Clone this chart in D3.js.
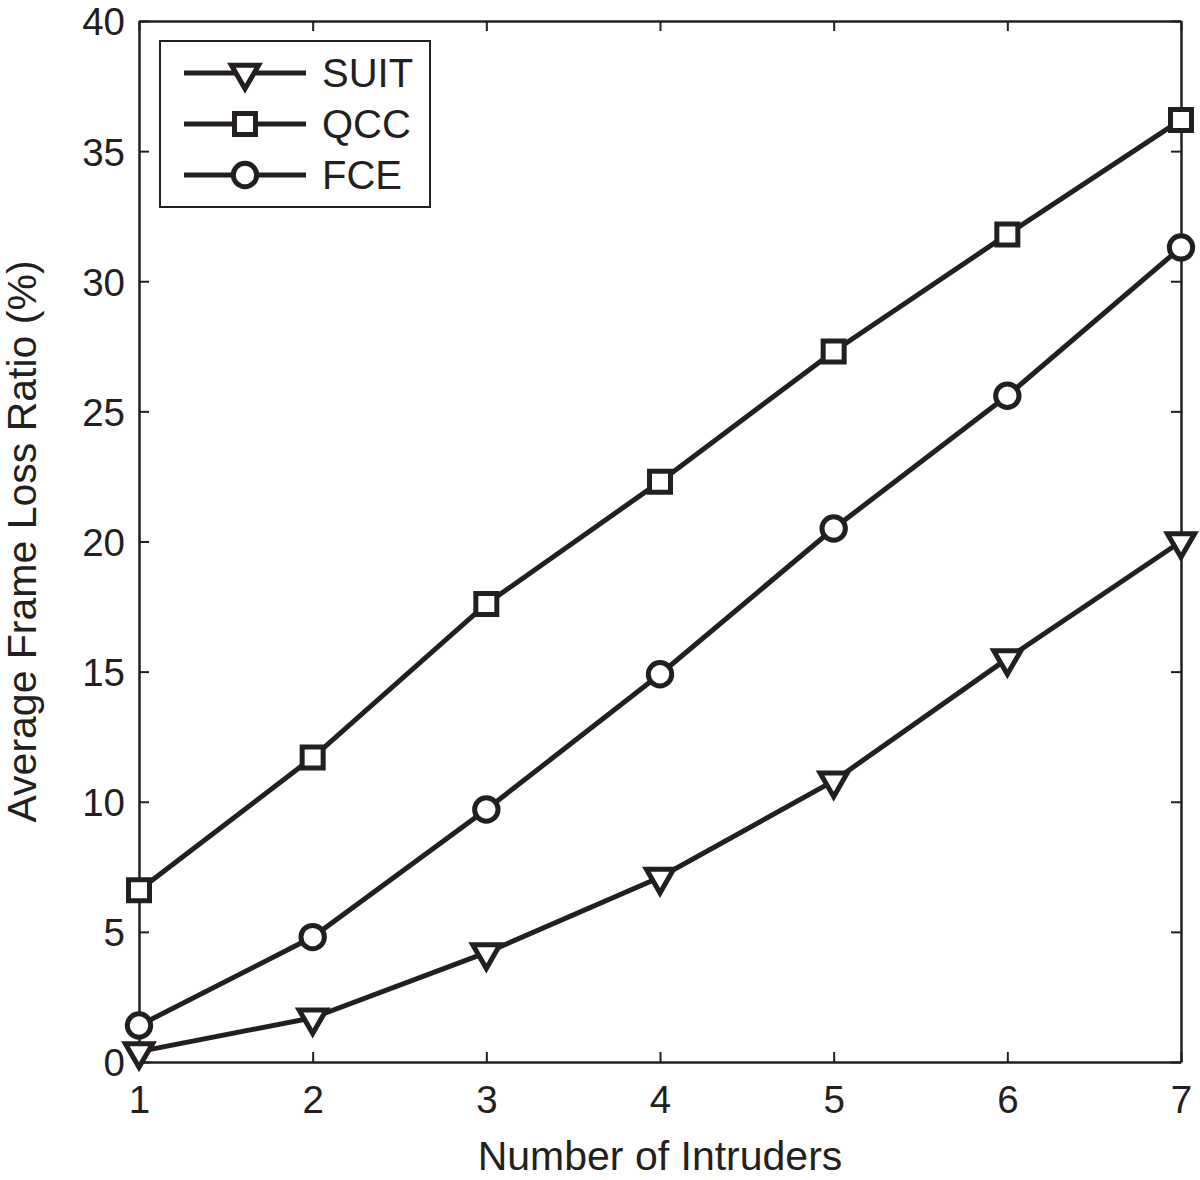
<!DOCTYPE html>
<html>
<head>
<meta charset="utf-8">
<script src="https://cdn.jsdelivr.net/npm/d3@7"></script>
<style>
  body { margin: 0; background: #fff; }
  text { font-family: "Liberation Sans", Arial, sans-serif; fill: #231f20; }
</style>
</head>
<body>
<svg id="chart" width="1200" height="1180"></svg>
<script>
// data
const intruders = [1, 2, 3, 4, 5, 6, 7];
const suit = [0.4, 1.7, 4.2, 7.1, 10.8, 15.5, 20.0];
const qcc = [6.6, 11.7, 17.6, 22.3, 27.3, 31.8, 36.2];
const fce = [1.4, 4.8, 9.7, 14.9, 20.5, 25.6, 31.3];
const yTicks = [0, 5, 10, 15, 20, 25, 30, 35, 40];
const seriesNames = ["SUIT", "QCC", "FCE"];

const ink = "#231f20";
const margin = { top: 21, right: 19, bottom: 118, left: 139 };
const width = 1200 - margin.left - margin.right;
const height = 1180 - margin.top - margin.bottom;

const svg = d3.select("#chart")
    .append("g")
    .attr("transform", `translate(${margin.left},${margin.top})`);

const xScale = d3.scaleLinear().domain([1, 7]).range([0, width]);
const yScale = d3.scaleLinear().domain([0, 40]).range([height, 0]);

// axes with inward ticks, box on all four sides
const tickLen = 10;
const xAxis = svg.append("g")
    .attr("transform", `translate(0,${height})`)
    .call(d3.axisBottom(xScale).tickValues(intruders).tickFormat(d3.format("d"))
        .tickSizeInner(-tickLen).tickSizeOuter(0).tickPadding(24));
const yAxis = svg.append("g")
    .call(d3.axisLeft(yScale).tickValues(yTicks)
        .tickSizeInner(-tickLen).tickSizeOuter(0).tickPadding(14));
svg.append("g")
    .call(d3.axisTop(xScale).tickValues(intruders).tickFormat("").tickSizeInner(-tickLen).tickSizeOuter(0));
svg.append("g")
    .attr("transform", `translate(${width},0)`)
    .call(d3.axisRight(yScale).tickValues(yTicks).tickFormat("").tickSizeInner(-tickLen).tickSizeOuter(0));

svg.selectAll(".domain").attr("stroke", ink).attr("stroke-width", 2.5);
svg.selectAll(".tick line").attr("stroke", ink).attr("stroke-width", 2);
svg.selectAll(".tick text").style("font-size", "38.5px").attr("fill", ink);
xAxis.selectAll(".tick text").attr("dy", "0.71em");
yAxis.selectAll(".tick text").attr("dy", "0.36em");

// axis labels
svg.append("text")
    .attr("x", width / 2)
    .attr("y", height + 108)
    .style("text-anchor", "middle")
    .style("font-size", "41px")
    .text("Number of Intruders");

svg.append("text")
    .attr("transform", "rotate(-90)")
    .attr("x", -height / 2)
    .attr("y", -103)
    .style("text-anchor", "middle")
    .style("font-size", "41px")
    .text("Average Frame Loss Ratio (%)");

// markers
const symbols = {
    SUIT: d3.symbol().type(d3.symbolTriangle).size(320),
    QCC: d3.symbol().type(d3.symbolSquare).size(441),
    FCE: d3.symbol().type(d3.symbolCircle).size(430)
};

function drawMarker(g, name) {
    const p = g.append("path")
        .attr("d", symbols[name]())
        .attr("fill", "#fff")
        .attr("stroke", ink)
        .attr("stroke-width", 5);
    if (name === "SUIT") p.attr("transform", "rotate(180)");
    return p;
}

const series = [
    { name: "SUIT", values: suit },
    { name: "QCC", values: qcc },
    { name: "FCE", values: fce }
];

const line = d3.line()
    .x((d, i) => xScale(intruders[i]))
    .y(d => yScale(d));

series.forEach(s => {
    svg.append("path")
        .attr("fill", "none")
        .attr("stroke", ink)
        .attr("stroke-width", 5)
        .attr("d", line(s.values));
});

series.forEach(s => {
    s.values.forEach((v, i) => {
        const g = svg.append("g")
            .attr("transform", `translate(${xScale(intruders[i])},${yScale(v)})`);
        drawMarker(g, s.name);
    });
});

// legend
const legend = svg.append("g").attr("transform", "translate(21,20)");
legend.append("rect")
    .attr("width", 270)
    .attr("height", 166)
    .attr("fill", "#fff")
    .attr("stroke", ink)
    .attr("stroke-width", 2);

seriesNames.forEach((name, i) => {
    const row = legend.append("g").attr("transform", `translate(0,${32 + i * 51})`);
    row.append("line")
        .attr("x1", 24).attr("x2", 146)
        .attr("stroke", ink).attr("stroke-width", 5);
    drawMarker(row.append("g").attr("transform", "translate(85,0)"), name);
    row.append("text")
        .attr("x", 162)
        .attr("dy", "0.36em")
        .style("font-size", "40px")
        .text(name);
});
</script>
</body>
</html>
